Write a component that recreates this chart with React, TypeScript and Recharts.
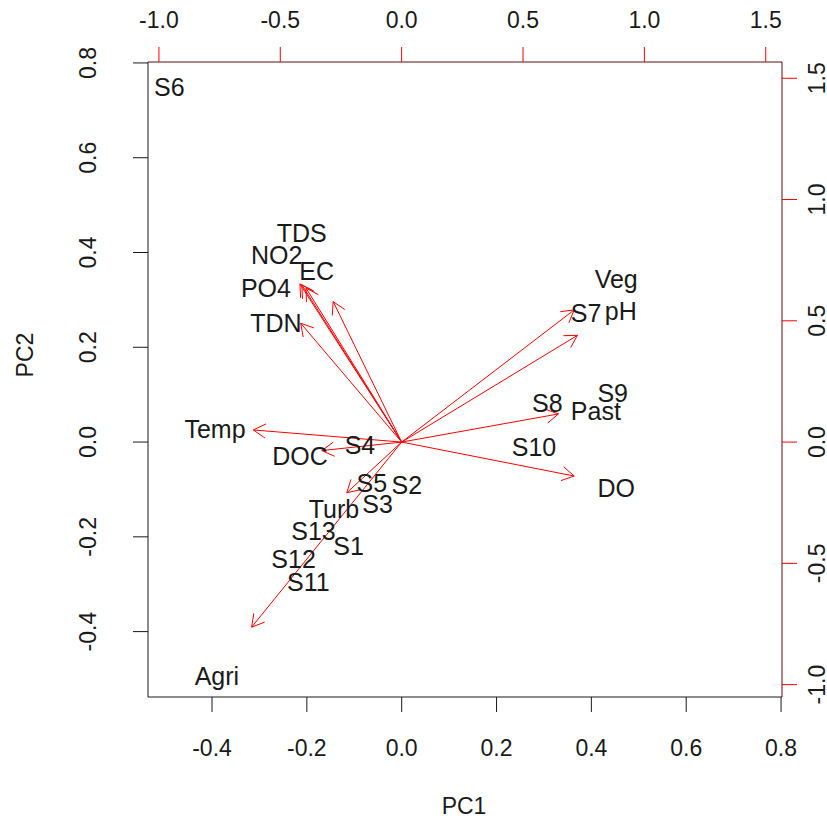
import { ScatterChart, Scatter, XAxis, YAxis, ReferenceLine } from 'recharts';

// ---- sites (scores, PC1 / PC2, bottom + left axes) ----
const siteNames = ['S1', 'S2', 'S3', 'S4', 'S5', 'S6', 'S7', 'S8', 'S9', 'S10', 'S11', 'S12', 'S13'];
const sitePC1 = [-0.112, 0.011, -0.051, -0.088, -0.063, -0.49, 0.389, 0.307, 0.445, 0.279, -0.197, -0.228, -0.186];
const sitePC2 = [-0.219, -0.091, -0.131, -0.006, -0.087, 0.75, 0.273, 0.082, 0.103, -0.01, -0.295, -0.247, -0.187];

// ---- variables (loadings, top + right axes) ----
const varNames = ['Veg', 'pH', 'Past', 'DO', 'Agri', 'Temp', 'DOC', 'Turb', 'TDN', 'PO4', 'NO2', 'TDS', 'EC'];
// arrow tips
const varArrowX = [0.711, 0.724, 0.646, 0.711, -0.618, -0.611, -0.329, -0.226, -0.416, -0.419, -0.411, -0.394, -0.282];
const varArrowY = [0.545, 0.44, 0.116, -0.14, -0.763, 0.05, -0.035, -0.209, 0.49, 0.652, 0.648, 0.635, 0.579];
// label positions
const varLabelX = [0.884, 0.903, 0.8, 0.884, -0.761, -0.769, -0.419, -0.279, -0.518, -0.559, -0.515, -0.412, -0.35];
const varLabelY = [0.671, 0.542, 0.129, -0.19, -0.964, 0.053, -0.057, -0.277, 0.49, 0.634, 0.771, 0.861, 0.707];

// ---- axes ----
const pcTicks = [-0.4, -0.2, 0, 0.2, 0.4, 0.6, 0.8];
const loadTicks = [-1, -0.5, 0, 0.5, 1, 1.5];
const pc1Domain = [-0.535, 0.802];
const pc2Domain = [-0.538, 0.802];
const loadXDomain = [-1.045, 1.567];
const loadYDomain = [-1.051, 1.567];

const FONT = '"Liberation Sans", Arial, Helvetica, sans-serif';
const INK = '#1a1a1a';
const RED = '#ff0000';

const sites = siteNames.map((name, i) => ({ name, x: sitePC1[i], y: sitePC2[i] }));
const varLabels = varNames.map((name, i) => ({ name, x: varLabelX[i], y: varLabelY[i] }));

const fmt = (v: number) => v.toFixed(1);

function BottomTick({ x, y, payload }: any) {
  return (
    <text x={x} y={y + 36} textAnchor="middle" dominantBaseline="central" fontSize={23} fill={INK} fontFamily={FONT}>
      {fmt(payload.value)}
    </text>
  );
}

function TopTick({ x, y, payload }: any) {
  return (
    <text x={x} y={y - 27} textAnchor="middle" dominantBaseline="central" fontSize={23} fill={INK} fontFamily={FONT}>
      {fmt(payload.value)}
    </text>
  );
}

function LeftTick({ x, y, payload }: any) {
  const tx = x - 45;
  return (
    <text x={tx} y={y} transform={`rotate(-90, ${tx}, ${y})`} textAnchor="middle" dominantBaseline="central" fontSize={23} fill={INK} fontFamily={FONT}>
      {fmt(payload.value)}
    </text>
  );
}

function RightTick({ x, y, payload }: any) {
  const tx = x + 20;
  return (
    <text x={tx} y={y} transform={`rotate(-90, ${tx}, ${y})`} textAnchor="middle" dominantBaseline="central" fontSize={23} fill={INK} fontFamily={FONT}>
      {fmt(payload.value)}
    </text>
  );
}

function LabelShape(props: any) {
  const { cx, cy, payload } = props;
  return (
    <text x={cx} y={cy} textAnchor="middle" dominantBaseline="central" fontSize={25} fill={INK} fontFamily={FONT}>
      {payload.name}
    </text>
  );
}

// line from origin with an open arrow head at the tip
function ArrowShape(props: any) {
  const { x1, y1, x2, y2 } = props;
  const ang = Math.atan2(y2 - y1, x2 - x1);
  const len = 14;
  const spread = Math.PI / 6;
  const ax = x2 - len * Math.cos(ang - spread);
  const ay = y2 - len * Math.sin(ang - spread);
  const bx = x2 - len * Math.cos(ang + spread);
  const by = y2 - len * Math.sin(ang + spread);
  return (
    <g>
      <line x1={x1} y1={y1} x2={x2} y2={y2} stroke={RED} strokeWidth={1} />
      <polyline points={`${ax},${ay} ${x2},${y2} ${bx},${by}`} fill="none" stroke={RED} strokeWidth={1} />
    </g>
  );
}

export default function App() {
  return (
    <div style={{ position: 'relative', width: 827, height: 820, background: '#fff', fontFamily: FONT }}>
      {/* use the whole page: no body margin */}
      <style>{'body { margin: 0; } #root { width: 827px; height: 820px; }'}</style>

      <ScatterChart width={827} height={820} margin={{ top: 22, right: 15, bottom: 63, left: 88 }}>
        {/* bottom: PC1 */}
        <XAxis
          xAxisId="pc1"
          dataKey="x"
          type="number"
          domain={pc1Domain}
          ticks={pcTicks}
          interval={0}
          allowDataOverflow
          height={60}
          tickSize={15}
          tickMargin={0}
          axisLine={{ stroke: INK }}
          tickLine={{ stroke: INK }}
          tick={<BottomTick />}
        />
        {/* top: loadings */}
        <XAxis
          xAxisId="load"
          dataKey="x"
          type="number"
          orientation="top"
          domain={loadXDomain}
          ticks={loadTicks}
          interval={0}
          allowDataOverflow
          height={40}
          tickSize={15}
          tickMargin={0}
          axisLine={{ stroke: '#5a0c0c' }}
          tickLine={{ stroke: RED }}
          tick={<TopTick />}
        />
        {/* left: PC2 */}
        <YAxis
          yAxisId="pc2"
          dataKey="y"
          type="number"
          domain={pc2Domain}
          ticks={pcTicks}
          interval={0}
          allowDataOverflow
          width={60}
          tickSize={15}
          tickMargin={0}
          axisLine={{ stroke: INK }}
          tickLine={{ stroke: INK }}
          tick={<LeftTick />}
        />
        {/* right: loadings */}
        <YAxis
          yAxisId="load"
          dataKey="y"
          type="number"
          orientation="right"
          domain={loadYDomain}
          ticks={loadTicks}
          interval={0}
          allowDataOverflow
          width={30}
          tickSize={15}
          tickMargin={0}
          axisLine={{ stroke: '#5a0c0c' }}
          tickLine={{ stroke: RED }}
          tick={<RightTick />}
        />

        {/* arrows */}
        {varNames.map((name, i) => (
          <ReferenceLine
            key={name}
            xAxisId="load"
            yAxisId="load"
            segment={[{ x: 0, y: 0 }, { x: varArrowX[i], y: varArrowY[i] }]}
            ifOverflow="visible"
            shape={ArrowShape}
          />
        ))}

        <Scatter
          data={varLabels}
          xAxisId="load"
          yAxisId="load"
          shape={LabelShape}
          isAnimationActive={false}
        />
        <Scatter
          data={sites}
          xAxisId="pc1"
          yAxisId="pc2"
          shape={LabelShape}
          isAnimationActive={false}
        />
      </ScatterChart>

      {/* axis titles */}
      <div
        style={{
          position: 'absolute',
          left: 464,
          top: 806,
          transform: 'translate(-50%, -50%)',
          fontSize: 23,
          lineHeight: '24px',
          color: INK,
          whiteSpace: 'nowrap',
        }}
      >
        PC1
      </div>
      <div
        style={{
          position: 'absolute',
          left: 25,
          top: 355,
          transform: 'translate(-50%, -50%) rotate(-90deg)',
          fontSize: 23,
          lineHeight: '24px',
          color: INK,
          whiteSpace: 'nowrap',
        }}
      >
        PC2
      </div>
    </div>
  );
}
